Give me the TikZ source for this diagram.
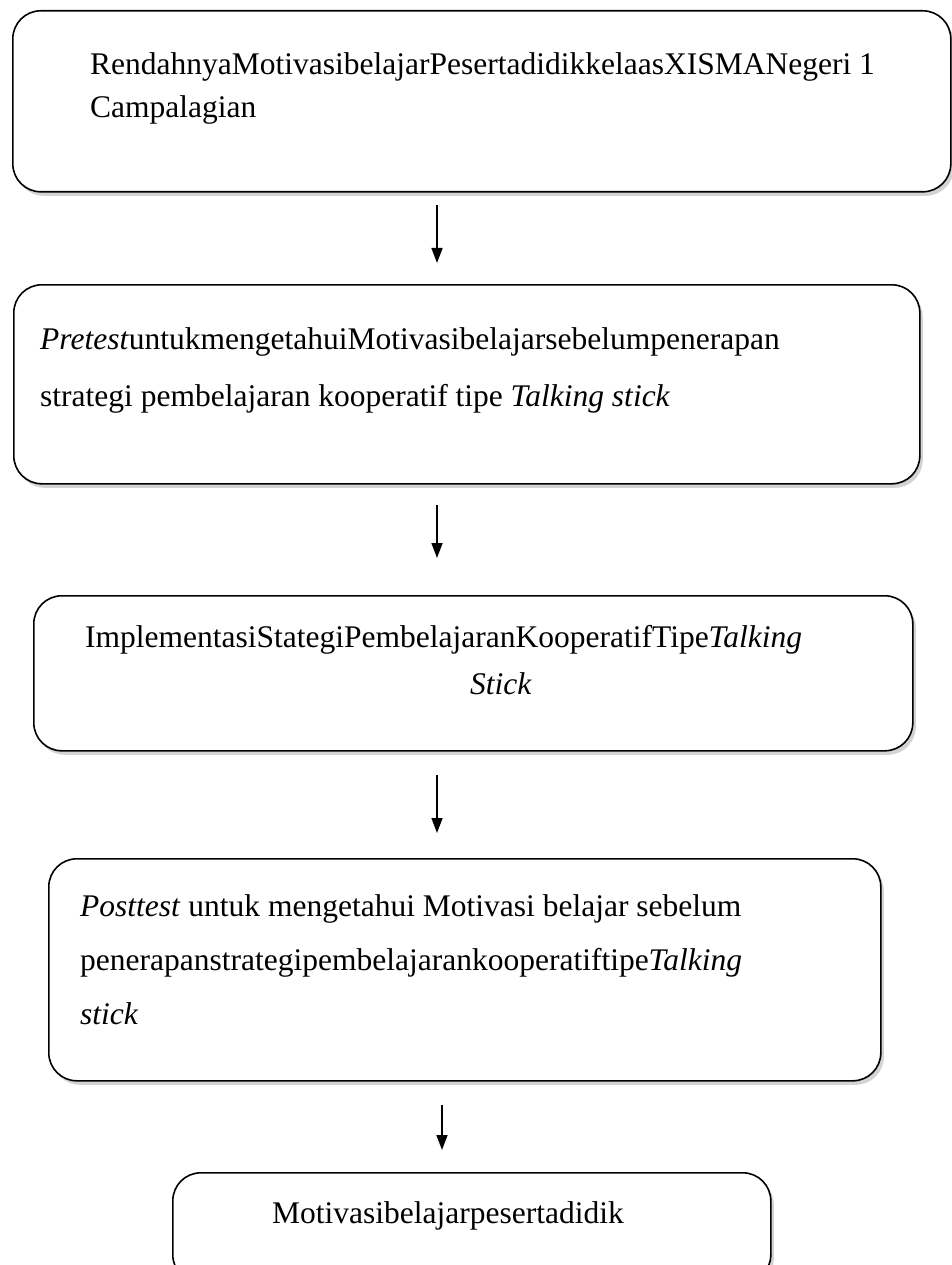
\documentclass[tikz,border=0pt]{standalone}
\usepackage{fontspec}
\setmainfont{Liberation Serif}
\usetikzlibrary{arrows.meta,shadows}

\begin{document}
\begin{tikzpicture}[x=1pt,y=-1pt,
    box/.style={draw,line width=1.6pt,rounded corners=28pt,fill=white,anchor=north west,inner sep=0pt,
        drop shadow={shadow xshift=3pt,shadow yshift=-4pt,opacity=0.35}},
    txt/.style={anchor=north west,inner sep=0pt,align=left,font=\fontsize{31.5}{#1}\selectfont},
    txt/.default=38,
    arr/.style={line width=1.5pt,-{Triangle[length=15pt,width=11pt]}}]
    \useasboundingbox (0,0) rectangle (952,1265);
    \clip (0,0) rectangle (952,1265);
    % kotak
    \node[box,minimum width=938pt,minimum height=181pt] (masalah) at (12,10) {};
    \node[box,minimum width=906pt,minimum height=199pt] (pretest) at (13,284) {};
    \node[box,minimum width=879pt,minimum height=155pt] (perlakuan) at (33,595) {};
    \node[box,minimum width=832pt,minimum height=222pt] (posttest) at (48,858) {};
    \node[box,minimum width=598pt,minimum height=110pt] (hasil) at (172,1172) {};
    % teks
    \node[txt=43] (tmasalah) at (90,52) {RendahnyaMotivasibelajarPesertadidikkelaasXISMANegeri 1\\Campalagian};
    \node[txt=57] (tpretest) at (40,327) {\textit{Pretest}untukmengetahuiMotivasibelajarsebelumpenerapan\\strategi pembelajaran kooperatif tipe \textit{Talking stick}};
    \node[txt=47] (tperlakuan) at (85,625) {ImplementasiStategiPembelajaranKooperatifTipe\textit{Talking}\\\hspace*{385pt}\textit{Stick}};
    \node[txt=54] (tposttest) at (80,894) {\textit{Posttest} untuk mengetahui Motivasi belajar sebelum\\penerapanstrategipembelajarankooperatiftipe\textit{Talking}\\\textit{stick}};
    \node[txt] (thasil) at (272,1201) {Motivasibelajarpesertadidik};
    % panah
    \coordinate (p1) at (437,205);  \coordinate (q1) at (437,263);
    \coordinate (p2) at (437,505);  \coordinate (q2) at (437,558);
    \coordinate (p3) at (437,775);  \coordinate (q3) at (437,833);
    \coordinate (p4) at (442,1105); \coordinate (q4) at (442,1150);
    \draw[arr] (p1) -- (q1);
    \draw[arr] (p2) -- (q2);
    \draw[arr] (p3) -- (q3);
    \draw[arr] (p4) -- (q4);
\end{tikzpicture}
\end{document}
